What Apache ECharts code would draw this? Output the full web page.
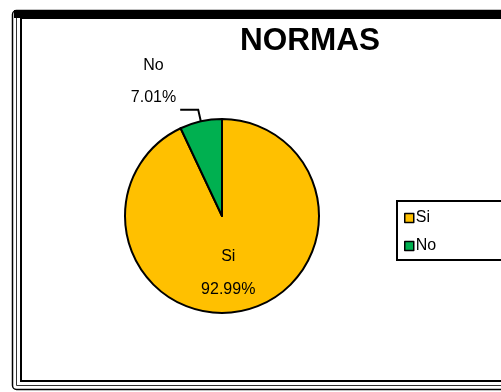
<!DOCTYPE html>
<html>
<head>
<meta charset="utf-8">
<script src="https://cdn.jsdelivr.net/npm/echarts@6/dist/echarts.min.js"></script>
<style>
  html, body { margin: 0; padding: 0; background: #fff; }
  #chart { width: 501px; height: 392px; }
</style>
</head>
<body>
<div id="chart"></div>
<script>
// Survey answers on "NORMAS"
const categories = ['Si', 'No'];
const values = [92.99, 7.01];
const colors = ['#FFC000', '#00B050'];

const FONT = '"Liberation Sans", Arial, sans-serif';

const chart = echarts.init(document.getElementById('chart'), null, { renderer: 'canvas' });

const data = categories.map((name, i) => ({
  name,
  value: values[i],
  itemStyle: { color: colors[i] }
}));

// The large slice gets its label inside; the small one outside with a leader line
data[0].label = {
  position: 'inside',
  formatter: '{s|}\n{b|{b}}\n{p|{d}%}',
  rich: {
    s: { lineHeight: 14 },
    b: { fontSize: 16, fontFamily: FONT, color: '#000', lineHeight: 33, align: 'center' },
    p: { fontSize: 16, fontFamily: FONT, color: '#000', lineHeight: 33, align: 'center' }
  }
};
data[1].label = {
  position: 'outside',
  distanceToLabelLine: 4,
  formatter: '{b|{b}}\n{p|{d}%}\n{s|}',
  rich: {
    b: { fontSize: 16, fontFamily: FONT, color: '#000', lineHeight: 32, align: 'center' },
    p: { fontSize: 16, fontFamily: FONT, color: '#000', lineHeight: 32, align: 'center' },
    s: { lineHeight: 56 }
  }
};

chart.setOption({
  animation: false,
  backgroundColor: '#fff',
  title: {
    text: 'NORMAS',
    left: 235,
    top: 20,
    textStyle: { fontFamily: FONT, fontWeight: 'bold', fontSize: 31.5, color: '#000' }
  },
  legend: {
    orient: 'vertical',
    left: 397,
    top: 201,
    data: categories,
    icon: 'rect',
    itemWidth: 9,
    itemHeight: 9,
    itemGap: 12,
    padding: [9, 100, 6, 7],
    borderColor: '#000',
    borderWidth: 2,
    backgroundColor: '#fff',
    textStyle: { fontFamily: FONT, fontSize: 16, color: '#000', padding: [0, 0, 0, -3] },
    itemStyle: { borderColor: '#000', borderWidth: 1.5 }
  },
  graphic: [
    { type: 'rect', z: 100, silent: true, shape: { x: 12.5, y: 10.5, width: 600, height: 379, r: 4 }, style: { fill: 'none', stroke: '#000', lineWidth: 1.5 } },
    { type: 'rect', z: 100, silent: true, shape: { x: 16.5, y: 14.5, width: 600, height: 371 }, style: { fill: 'none', stroke: '#333', lineWidth: 1 } },
    { type: 'rect', z: 100, silent: true, shape: { x: 21, y: 18, width: 600, height: 363 }, style: { fill: 'none', stroke: '#000', lineWidth: 2 } },
    { type: 'rect', z: 100, silent: true, shape: { x: 14, y: 10, width: 600, height: 8 }, style: { fill: '#000' } }
  ],
  series: [{
    type: 'pie',
    center: [222, 216],
    radius: 97,
    startAngle: 90,
    clockwise: true,
    avoidLabelOverlap: false,
    itemStyle: { borderColor: '#000', borderWidth: 2 },
    labelLine: {
      show: true,
      length: 12,
      length2: 18,
      smooth: false,
      lineStyle: { color: '#000', width: 2 }
    },
    // nudge the inside label slightly toward the centre line
    labelLayout: (params) => (params.dataIndex === 0 ? { dx: -5, dy: 0 } : {}),
    emphasis: { disabled: true },
    data
  }]
});
</script>
</body>
</html>
